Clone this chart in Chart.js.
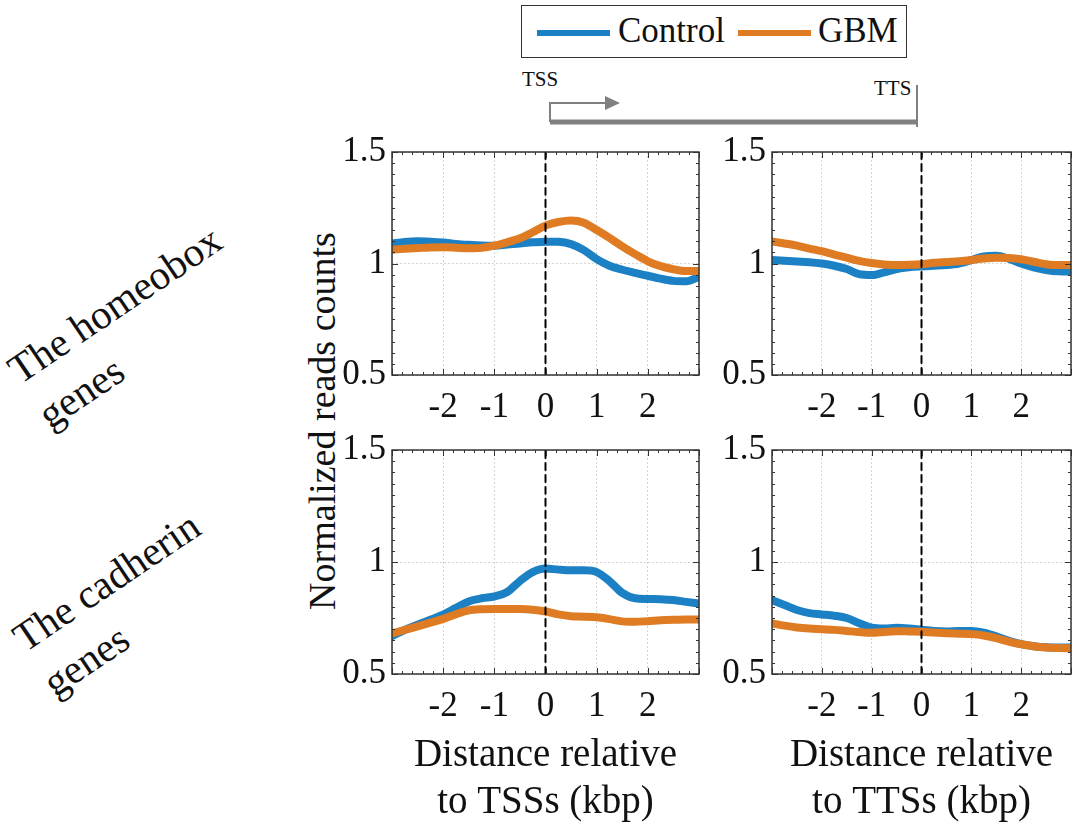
<!DOCTYPE html>
<html>
<head>
<meta charset="utf-8">
<script src="https://cdn.jsdelivr.net/npm/chart.js@4.4.1/dist/chart.umd.min.js"></script>
<style>
    html, body { margin: 0; padding: 0; background: #fff; }
    #page { position: relative; width: 1083px; height: 827px; overflow: hidden;
            font-family: "Liberation Serif", Tinos, "Times New Roman", serif; color: #111; }
    canvas { position: absolute; }
    .txt { position: absolute; white-space: nowrap; }
    #legend { position: absolute; left: 521px; top: 5px; width: 386px; height: 53px;
              border: 1.5px solid #333; box-sizing: border-box; }
    .swatch { position: absolute; top: 24px; height: 6px; width: 73px; }
    .legtext { position: absolute; top: 4px; font-size: 35px; line-height: 42px; }
    .rowlabel { position: absolute; font-size: 41px; line-height: 54px; transform-origin: 0 0;
                transform: rotate(-34deg); white-space: nowrap; }
</style>
</head>
<body>
<div id="page">
    <div id="legend">
        <span class="swatch" style="left:15px;background:#1b80c4"></span>
        <span class="legtext" style="left:96px">Control</span>
        <span class="swatch" style="left:216px;background:#df7b22"></span>
        <span class="legtext" style="left:296px">GBM</span>
    </div>

    <svg width="1083" height="140" style="position:absolute;left:0;top:0">
        <polyline points="550,122 550,103 607,103" fill="none" stroke="#808080" stroke-width="2"/>
        <polygon points="605,96 620,103 605,110" fill="#808080"/>
        <line x1="550" y1="122" x2="917" y2="122" stroke="#808080" stroke-width="5"/>
        <line x1="917" y1="85" x2="917" y2="127" stroke="#808080" stroke-width="2"/>
    </svg>
    <div class="txt" style="left:522px;top:67px;font-size:21px">TSS</div>
    <div class="txt" style="left:874px;top:76px;font-size:21px">TTS</div>

    <div class="txt" style="left:322px;top:421px;font-size:38px;transform:translate(-50%,-50%) rotate(-90deg)">Normalized reads counts</div>

    <div class="rowlabel" style="left:-3px;top:351px">The homeobox<br>genes</div>
    <div class="rowlabel" style="left:2px;top:619px">The cadherin<br>genes</div>

    <canvas id="homeoTss" width="379" height="300" style="left:332px;top:125px"></canvas>
    <canvas id="homeoTts" width="371" height="300" style="left:712px;top:125px"></canvas>
    <canvas id="cadTss" width="379" height="404" style="left:332px;top:423px"></canvas>
    <canvas id="cadTts" width="371" height="404" style="left:712px;top:423px"></canvas>
</div>

<script>
// distance from TSS / TTS in kbp
const kbp = [-3, -2.75, -2.5, -2.25, -2, -1.75, -1.5, -1.25, -1, -0.75, -0.5, -0.25, 0,
             0.25, 0.5, 0.75, 1, 1.25, 1.5, 1.75, 2, 2.25, 2.5, 2.75, 3];

const homeoTssControl = [1.090, 1.097, 1.100, 1.098, 1.094, 1.088, 1.084, 1.081, 1.080, 1.085, 1.090, 1.095, 1.098,
                         1.097, 1.087, 1.060, 1.020, 0.990, 0.972, 0.958, 0.945, 0.932, 0.922, 0.920, 0.940];
const homeoTssGbm = [1.062, 1.066, 1.069, 1.072, 1.073, 1.071, 1.068, 1.070, 1.080, 1.095, 1.113, 1.140, 1.170,
                     1.186, 1.193, 1.183, 1.150, 1.115, 1.077, 1.042, 1.010, 0.988, 0.974, 0.966, 0.966];

const homeoTtsControl = [1.016, 1.012, 1.009, 1.006, 1.000, 0.990, 0.975, 0.952, 0.948, 0.960, 0.975, 0.983, 0.987,
                         0.990, 0.993, 1.000, 1.015, 1.032, 1.035, 1.022, 1.000, 0.983, 0.971, 0.965, 0.964];
const homeoTtsGbm = [1.099, 1.090, 1.080, 1.067, 1.055, 1.040, 1.026, 1.012, 1.002, 0.996, 0.993, 0.994, 0.997,
                     1.003, 1.007, 1.010, 1.016, 1.022, 1.026, 1.025, 1.019, 1.008, 0.997, 0.993, 0.993];

const cadTssControl = [0.669, 0.697, 0.720, 0.742, 0.765, 0.795, 0.824, 0.838, 0.846, 0.866, 0.915, 0.955, 0.971,
                       0.966, 0.963, 0.963, 0.955, 0.915, 0.862, 0.838, 0.835, 0.834, 0.830, 0.822, 0.815];
const cadTssGbm = [0.681, 0.697, 0.713, 0.729, 0.746, 0.767, 0.784, 0.789, 0.790, 0.790, 0.790, 0.787, 0.779,
                   0.766, 0.758, 0.756, 0.753, 0.745, 0.735, 0.733, 0.736, 0.740, 0.742, 0.743, 0.743];

const cadTtsControl = [0.829, 0.808, 0.786, 0.772, 0.766, 0.760, 0.750, 0.727, 0.707, 0.703, 0.706, 0.703, 0.697,
                       0.692, 0.690, 0.692, 0.692, 0.684, 0.668, 0.648, 0.633, 0.624, 0.619, 0.618, 0.618];
const cadTtsGbm = [0.726, 0.716, 0.708, 0.703, 0.700, 0.697, 0.692, 0.687, 0.684, 0.688, 0.691, 0.690, 0.689,
                   0.685, 0.682, 0.680, 0.678, 0.672, 0.660, 0.645, 0.633, 0.624, 0.618, 0.616, 0.615];

const xRange = [-3, 3];
const yRange = [0.5, 1.5];
const xTickLabels = [-2, -1, 0, 1, 2];
const refLine = 0;

const blue = '#1b80c4';
const orange = '#df7b22';
const serif = '"Liberation Serif", Tinos, "Times New Roman", serif';

// matlab style box with small inward ticks
const boxTicks = {
    id: 'boxTicks',
    afterDraw(chart) {
        const {ctx, chartArea: a, scales: {x, y}} = chart;
        ctx.save();
        ctx.strokeStyle = '#333';
        ctx.lineWidth = 1;
        ctx.beginPath();
        for (let i = 0; i <= 30; i++) {
            const v = xRange[0] + i * 0.2;
            const px = Math.round(x.getPixelForValue(v)) + 0.5;
            const len = Math.abs(v - Math.round(v)) < 1e-6 ? 6 : 3;
            ctx.moveTo(px, a.bottom); ctx.lineTo(px, a.bottom - len);
            ctx.moveTo(px, a.top); ctx.lineTo(px, a.top + len);
        }
        for (let i = 0; i <= 20; i++) {
            const v = yRange[0] + i * 0.05;
            const py = Math.round(y.getPixelForValue(v)) + 0.5;
            const len = i % 10 === 0 ? 6 : 3;
            ctx.moveTo(a.left, py); ctx.lineTo(a.left + len, py);
            ctx.moveTo(a.right, py); ctx.lineTo(a.right - len, py);
        }
        ctx.stroke();
        ctx.lineWidth = 1.5;
        ctx.strokeRect(a.left, a.top, a.right - a.left, a.bottom - a.top);
        ctx.restore();
    }
};

function toPoints(values) {
    return kbp.map((k, i) => ({x: k, y: values[i]}));
}

function makeChart(id, control, gbm, title, padRight) {
    const ctx = document.getElementById(id);
    return new Chart(ctx, {
        type: 'line',
        data: {
            datasets: [
                {
                    label: 'Control',
                    data: toPoints(control),
                    borderColor: blue,
                    borderWidth: 8,
                    order: 2
                },
                {
                    label: 'GBM',
                    data: toPoints(gbm),
                    borderColor: orange,
                    borderWidth: 8,
                    order: 1
                },
                {
                    label: 'ref',
                    data: [{x: refLine, y: yRange[0]}, {x: refLine, y: yRange[1]}],
                    borderColor: '#000',
                    borderWidth: 2,
                    borderDash: [7, 5],
                    order: 0
                }
            ]
        },
        options: {
            responsive: false,
            animation: false,
            clip: 0,
            layout: {
                padding: {left: 0, right: padRight, top: 24, bottom: title ? 1 : 0}
            },
            elements: {
                point: {radius: 0},
                line: {cubicInterpolationMode: 'monotone', borderCapStyle: 'round'}
            },
            plugins: {
                legend: {display: false},
                tooltip: {enabled: false}
            },
            scales: {
                x: {
                    type: 'linear',
                    min: xRange[0],
                    max: xRange[1],
                    afterFit: (scale) => { scale.height = title ? 152 : 50; },
                    ticks: {
                        stepSize: 1,
                        padding: 12,
                        color: '#111',
                        font: {family: serif, size: 35},
                        callback: (v) => xTickLabels.includes(v) ? String(v) : ''
                    },
                    grid: {color: '#d4d4d4', lineWidth: 1, drawTicks: false},
                    border: {display: false, dash: [2, 2]},
                    title: {
                        display: !!title,
                        text: title || '',
                        color: '#111',
                        padding: {top: 0, bottom: 0},
                        font: {family: serif, size: 39, lineHeight: 1.2}
                    }
                },
                y: {
                    type: 'linear',
                    min: yRange[0],
                    max: yRange[1],
                    afterFit: (scale) => { scale.width = 60; },
                    ticks: {
                        stepSize: 0.5,
                        padding: 6,
                        color: '#111',
                        font: {family: serif, size: 35},
                        callback: (v) => String(v)
                    },
                    grid: {color: '#d4d4d4', lineWidth: 1, drawTicks: false},
                    border: {display: false, dash: [2, 2]}
                }
            }
        },
        plugins: [boxTicks]
    });
}

makeChart('homeoTss', homeoTssControl, homeoTssGbm, null, 6);
makeChart('homeoTts', homeoTtsControl, homeoTtsGbm, null, 2);
makeChart('cadTss', cadTssControl, cadTssGbm, ['Distance relative', 'to TSSs (kbp)'], 6);
makeChart('cadTts', cadTtsControl, cadTtsGbm, ['Distance relative', 'to TTSs (kbp)'], 2);
</script>
</body>
</html>
